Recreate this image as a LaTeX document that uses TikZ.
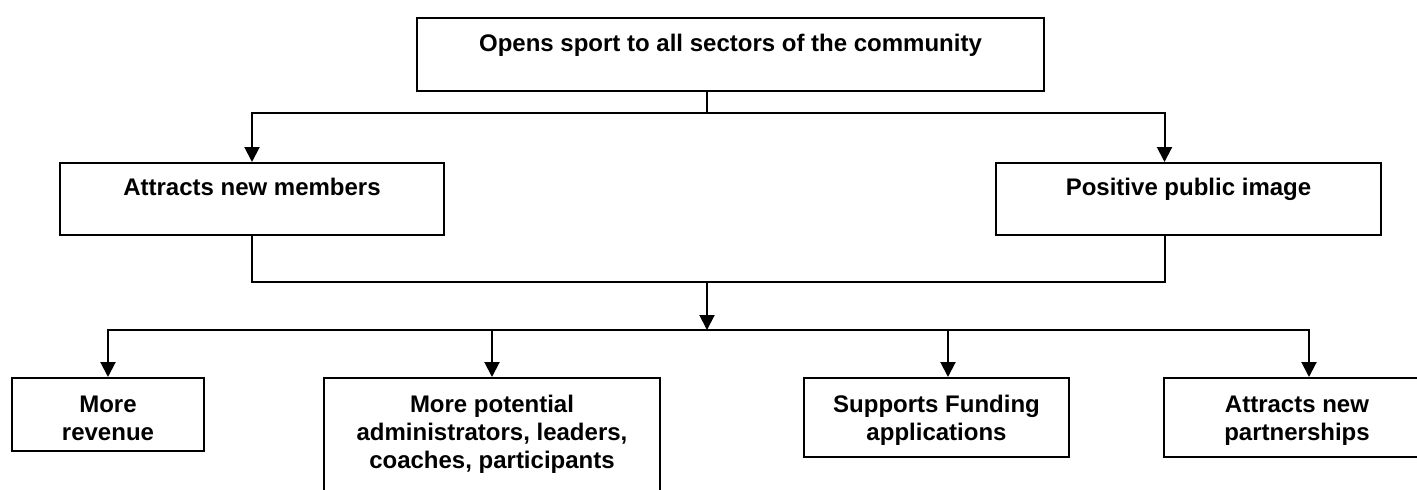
\documentclass[tikz,border=0pt]{standalone}
\usepackage{fontspec}
\setmainfont{Liberation Sans}
\usetikzlibrary{arrows.meta,calc}
\newcommand{\bxt}[4]{\parbox[c][#2pt][t]{#1pt}{\centering\rule{0pt}{#3pt}#4}}
\tikzset{
  box/.style={draw, line width=2pt, inner sep=0pt, anchor=north west,
    font=\bfseries\fontsize{24}{28}\selectfont},
  conn/.style={line width=2pt},
  arr/.style={conn, -{Triangle[width=15pt,length=15pt]}}
}
\begin{document}
\begin{tikzpicture}[x=1pt,y=-1pt]
\clip (0,0) rectangle (1417,490);
\fill[white] (0,0) rectangle (1417,490);
% boxes
\node[box] (T) at (416,17) {\bxt{627}{73}{33}{Opens sport to all sectors of the community}};
\node[box] (L) at (59,162) {\bxt{384}{72}{32}{Attracts new members}};
\node[box] (R) at (995,162) {\bxt{385}{72}{32}{Positive public image}};
\node[box] (B1) at (11,377) {\bxt{192}{73}{34}{More\\revenue}};
\node[box] (B2) at (323,377) {\bxt{336}{140}{34}{More potential\\administrators, leaders,\\coaches, participants}};
\node[box] (B3) at (803,377) {\bxt{265}{79}{34}{Supports Funding\\applications}};
\node[box] (B4) at (1163,377) {\bxt{266}{79}{34}{Attracts new\\partnerships}};
% junction points
\coordinate (tj) at (707,113);
\coordinate (mj) at (707,282);
\coordinate (bj) at (707,330);
\coordinate (rt) at ([xshift=-24pt]R.north);
\coordinate (rb) at ([xshift=-24pt]R.south);
% connectors
\draw[conn] (tj |- T.south) -- (tj);
\draw[arr] (tj) -| (L.north);
\draw[arr] (tj) -| (rt);
\draw[conn] (L.south) |- (mj) -| (rb);
\draw[arr] (mj) -- (bj);
\draw[arr] (bj) -| (B1.north);
\draw[arr] (bj) -| (B2.north);
\draw[arr] (bj) -| ([xshift=11.5pt]B3.north);
\draw[arr] (bj) -| ([xshift=12pt]B4.north);
\end{tikzpicture}
\end{document}
